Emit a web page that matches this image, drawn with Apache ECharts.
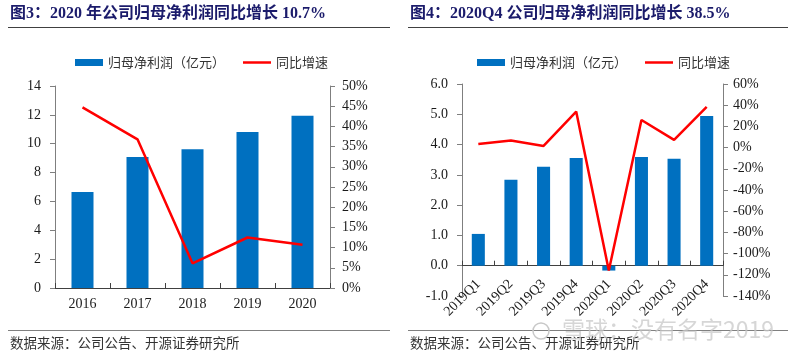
<!DOCTYPE html>
<html><head><meta charset="utf-8">
<script src="https://cdn.jsdelivr.net/npm/echarts@6/dist/echarts.min.js"></script>
<style>html,body{margin:0;padding:0;background:#fff}#c{width:800px;height:357px}</style>
</head><body><div id="c"></div>
<script>
// ---- data ----
const years = ['2016', '2017', '2018', '2019', '2020'];
const profitYear = [6.65, 9.08, 9.61, 10.81, 11.94];
const growthYear = [44.7, 36.8, 6.1, 12.5, 10.7];
const quarters = ['2019Q1', '2019Q2', '2019Q3', '2019Q4', '2020Q1', '2020Q2', '2020Q3', '2020Q4'];
const profitQ = [1.05, 2.84, 3.27, 3.56, -0.16, 3.59, 3.53, 4.94];
const growthQ = [3.5, 6.6, 1.6, 34.0, -116.0, 26.0, 7.3, 38.5];
const axis1Left = {min: 0, max: 14, interval: 2};
const axis1Right = {min: 0, max: 50, interval: 5};
const axis2Left = {min: -1, max: 6, interval: 1};
const axis2Right = {min: -140, max: 60, interval: 20};
const titles = ['图3：2020 年公司归母净利润同比增长 10.7%', '图4：2020Q4 公司归母净利润同比增长 38.5%'];
const seriesNames = ['归母净利润（亿元）', '同比增速'];
const sourceText = '数据来源：公司公告、开源证券研究所';

const BLUE = '#0070C0', RED = '#FF0000', AX = '#7f7f7f';
const NUM = 'Liberation Serif, "Times New Roman", serif';
const CJK = '"Noto Sans CJK SC", sans-serif';
const TITLE_FONT = 'bold 16px "Liberation Serif", "Noto Sans CJK SC", serif';

const chart = echarts.init(document.getElementById('c'), null, {renderer: 'canvas'});

function yAx(gi, r, pos, fmt, margin) {
  return {
    type: 'value', gridIndex: gi, position: pos, min: r.min, max: r.max, interval: r.interval,
    splitLine: {show: false},
    axisLine: {show: true, lineStyle: {color: AX, width: 1}},
    axisTick: {show: true, inside: false, length: 5, lineStyle: {color: AX}},
    axisLabel: {formatter: fmt, color: '#1a1a1a', fontFamily: NUM, fontSize: 14, margin: margin}
  };
}

const option = {
  animation: false,
  grid: [
    {left: 55, top: 86, width: 275, height: 202},
    {left: 462, top: 84, width: 261, height: 212}
  ],
  legend: [
    {left: 70, top: 51, itemWidth: 28, itemHeight: 7, itemGap: 18,
     textStyle: {fontSize: 13, fontFamily: CJK, color: '#333'},
     data: [{name: seriesNames[0], icon: 'rect'}, {name: seriesNames[1], icon: 'path://M0 0h28v2.5H0z'}]},
    {left: 472, top: 51, itemWidth: 28, itemHeight: 7, itemGap: 18,
     textStyle: {fontSize: 13, fontFamily: CJK, color: '#333'},
     data: [{name: seriesNames[0], icon: 'rect'}, {name: seriesNames[1], icon: 'path://M0 0h28v2.5H0z'}]}
  ],
  xAxis: [
    {type: 'category', gridIndex: 0, data: years,
     axisLine: {show: true, lineStyle: {color: '#404040'}},
     axisTick: {show: true, inside: true, length: 5, lineStyle: {color: '#404040'}},
     axisLabel: {color: '#1a1a1a', fontFamily: NUM, fontSize: 14, margin: 9}},
    {type: 'category', gridIndex: 1, data: quarters,
     axisLine: {show: true, onZero: true, onZeroAxisIndex: 2, lineStyle: {color: '#404040'}},
     axisTick: {show: true, inside: true, length: 5, lineStyle: {color: '#404040'}},
     axisLabel: {color: '#1a1a1a', fontFamily: NUM, fontSize: 14, margin: -14, rotate: 45}}
  ],
  yAxis: [
    yAx(0, axis1Left, 'left', v => String(v), 14),
    yAx(0, axis1Right, 'right', v => v + '%', 12),
    yAx(1, axis2Left, 'left', v => v.toFixed(1), 14),
    yAx(1, axis2Right, 'right', v => v + '%', 10)
  ],
  series: [
    {name: seriesNames[0], type: 'bar', xAxisIndex: 0, yAxisIndex: 0, data: profitYear,
     barWidth: '40%', itemStyle: {color: BLUE}},
    {name: seriesNames[1], type: 'line', xAxisIndex: 0, yAxisIndex: 1, data: growthYear,
     symbol: 'none', lineStyle: {color: RED, width: 2.5}, itemStyle: {color: RED}, z: 5},
    {name: seriesNames[0], type: 'bar', xAxisIndex: 1, yAxisIndex: 2, data: profitQ,
     barWidth: '40%', itemStyle: {color: BLUE}},
    {name: seriesNames[1], type: 'line', xAxisIndex: 1, yAxisIndex: 3, data: growthQ,
     symbol: 'none', lineStyle: {color: RED, width: 2.5}, itemStyle: {color: RED}, z: 5}
  ],
  graphic: [
    {type: 'text', left: 10, top: 6, style: {text: titles[0], font: TITLE_FONT, fill: '#1b1b6b'}},
    {type: 'text', left: 410, top: 6, style: {text: titles[1], font: TITLE_FONT, fill: '#1b1b6b'}},
    {type: 'line', shape: {x1: 8, y1: 27.5, x2: 390, y2: 27.5}, style: {stroke: '#404040', lineWidth: 1}},
    {type: 'line', shape: {x1: 408, y1: 27.5, x2: 788, y2: 27.5}, style: {stroke: '#404040', lineWidth: 1}},
    {type: 'line', shape: {x1: 8, y1: 330.5, x2: 390, y2: 330.5}, style: {stroke: '#808080', lineWidth: 1}},
    {type: 'line', shape: {x1: 408, y1: 330.5, x2: 788, y2: 330.5}, style: {stroke: '#808080', lineWidth: 1}},
    {type: 'text', left: 10, top: 336, style: {text: sourceText, font: '13.5px "Noto Sans CJK SC"', fill: '#333'}},
    {type: 'text', left: 410, top: 336, style: {text: sourceText, font: '13.5px "Noto Sans CJK SC"', fill: '#333'}},
    {type: 'circle', shape: {cx: 541, cy: 331, r: 8}, style: {fill: 'none', stroke: '#c8c8c8', lineWidth: 1.5}, z: 50},
    {type: 'text', left: 562, top: 318, z: 50, style: {text: '雪球：没有名字2019', font: '23px "Noto Sans CJK SC"', fill: 'rgba(200,200,200,0.75)'}}
  ]
};
chart.setOption(option);
</script>
</body></html>
